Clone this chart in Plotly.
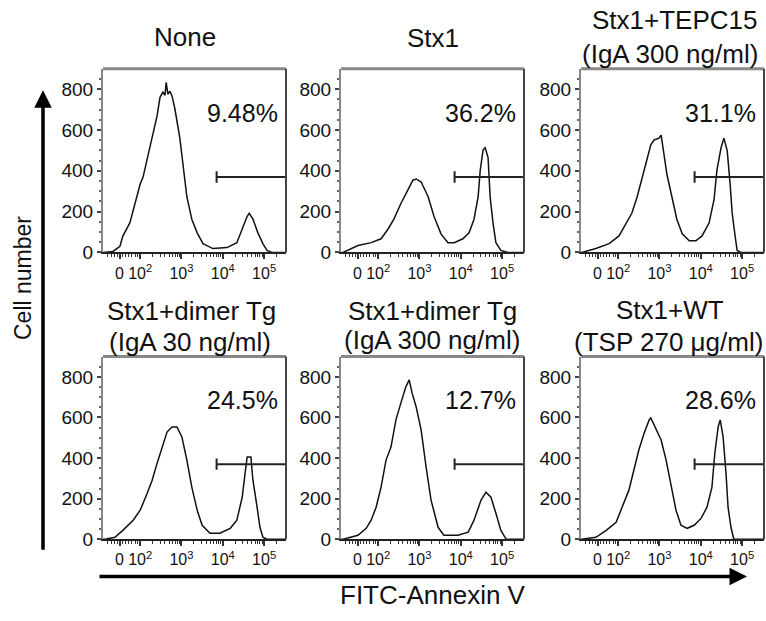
import plotly.graph_objects as go

# ---------------- data ----------------
panel_titles = [
    ["None"],
    ["Stx1"],
    ["Stx1+TEPC15", "(IgA 300 ng/ml)"],
    ["Stx1+dimer Tg", "(IgA 30 ng/ml)"],
    ["Stx1+dimer Tg", "(IgA 300 ng/ml)"],
    ["Stx1+WT", "(TSP 270 μg/ml)"],
]
percent_labels = ["9.48%", "36.2%", "31.1%", "24.5%", "12.7%", "28.6%"]

# x in decades of FITC-Annexin V (logicle-like display units), y = cell number
none_x = [1.10, 1.34, 1.51, 1.58, 1.75, 1.92, 2.00, 2.07, 2.19, 2.29, 2.41, 2.48, 2.55, 2.60, 2.63, 2.67,
          2.72, 2.77, 2.84, 2.96, 3.04, 3.13, 3.25, 3.38, 3.52, 3.76, 4.10, 4.34, 4.47, 4.59, 4.64,
          4.73, 4.85, 4.97, 5.07, 5.19, 5.53]
none_y = [0, 5, 30, 80, 145, 273, 335, 369, 480, 560, 670, 760, 785, 770, 833, 776,
          790, 767, 704, 560, 431, 273, 163, 96, 43, 19, 24, 48, 115, 177, 192,
          163, 96, 43, 10, 0, 0]

stx1_x = [1.10, 1.15, 1.51, 1.83, 2.07, 2.24, 2.38, 2.55, 2.72, 2.84, 2.92, 3.04, 3.21, 3.35, 3.52,
          3.69, 3.84, 4.05, 4.20, 4.32, 4.42, 4.47, 4.54, 4.59, 4.66, 4.71, 4.78, 4.85, 4.97, 5.14, 5.53]
stx1_y = [0, 0, 34, 48, 67, 115, 163, 240, 307, 354, 360, 345, 273, 177, 91,
          48, 48, 67, 96, 163, 273, 402, 503, 513, 465, 273, 144, 48, 10, 0, 0]

tepc_x = [1.10, 1.12, 1.46, 1.78, 2.02, 2.19, 2.33, 2.46, 2.58, 2.70, 2.79, 2.87, 2.99, 3.04, 3.09,
          3.18, 3.30, 3.42, 3.55, 3.72, 3.88, 4.03, 4.20, 4.32, 4.39, 4.49, 4.56, 4.64, 4.71, 4.76,
          4.83, 4.88, 4.97, 5.53]
tepc_y = [0, 0, 19, 43, 81, 144, 192, 273, 369, 465, 527, 551, 560, 575, 513,
          383, 273, 163, 91, 57, 57, 81, 144, 259, 402, 513, 560, 498, 335, 192,
          81, 10, 0, 0]

dimer30_x = [1.10, 1.15, 1.39, 1.58, 1.83, 2.00, 2.17, 2.29, 2.41, 2.53, 2.65, 2.77, 2.89, 3.01, 3.13,
             3.25, 3.38, 3.50, 3.69, 3.93, 4.18, 4.34, 4.47, 4.54, 4.59, 4.68, 4.73, 4.83, 4.90, 4.97,
             5.07, 5.53]
dimer30_y = [0, 0, 10, 44, 94, 143, 227, 291, 375, 454, 528, 553, 553, 504, 390,
             257, 143, 69, 30, 30, 54, 94, 207, 326, 405, 405, 291, 158, 59, 10,
             0, 0]

dimer300_x = [1.10, 1.15, 1.51, 1.71, 1.83, 1.95, 2.07, 2.19, 2.31, 2.43, 2.55, 2.67, 2.75, 2.82, 2.92,
              3.04, 3.16, 3.28, 3.45, 3.59, 3.93, 4.18, 4.32, 4.49, 4.61, 4.73, 4.85, 4.97, 5.10, 5.53]
dimer300_y = [0, 0, 20, 54, 94, 158, 257, 390, 454, 588, 672, 751, 785, 721, 652,
              538, 356, 193, 59, 20, 20, 35, 94, 193, 232, 207, 128, 44, 0, 0]

wt_x = [1.10, 1.12, 1.46, 1.71, 1.95, 2.09, 2.26, 2.38, 2.50, 2.63, 2.75, 2.79, 2.92, 3.04, 3.16,
        3.28, 3.40, 3.52, 3.67, 3.84, 4.01, 4.15, 4.27, 4.34, 4.42, 4.47, 4.54, 4.61, 4.66, 4.73,
        4.80, 5.53]
wt_y = [0, 0, 10, 44, 84, 158, 242, 341, 440, 523, 588, 598, 538, 489, 390,
        257, 143, 69, 54, 69, 104, 158, 257, 425, 553, 588, 504, 326, 158, 59,
        0, 0]

series_x = [none_x, stx1_x, tepc_x, dimer30_x, dimer300_x, wt_x]
series_y = [none_y, stx1_y, tepc_y, dimer30_y, dimer300_y, wt_y]

gate_start = 3.85
gate_level = 370
label_x = 5.38
label_y = 685

x_range = [1.10, 5.53]
y_range = [0, 900]
x_tick_vals = [1.50, 2, 3, 4, 5]
x_tick_text = ["0", "10<sup>2</sup>", "10<sup>3</sup>", "10<sup>4</sup>", "10<sup>5</sup>"]
x_minor_vals = [1.2, 1.3, 1.38, 1.45, 1.56, 1.65, 1.72, 1.8, 1.88, 1.94,
                2.30, 2.48, 2.60, 2.70, 2.78, 2.85, 2.90, 2.95,
                3.30, 3.48, 3.60, 3.70, 3.78, 3.85, 3.90, 3.95,
                4.30, 4.48, 4.60, 4.70, 4.78, 4.85, 4.90, 4.95, 5.30]
y_tick_vals = [0, 200, 400, 600, 800]
y_minor_vals = [50, 100, 150, 250, 300, 350, 450, 500, 550, 650, 700, 750, 850]

# ---------------- layout geometry ----------------
W, H = 766, 621
col_px = [(103, 286), (341, 524), (581, 764)]
row_px = [(70, 257), (363, 549)]
FONT = "Liberation Sans, Arial, sans-serif"

fig = go.Figure()
layout = dict(
    width=W, height=H, margin=dict(l=0, r=0, t=0, b=0),
    paper_bgcolor="white", plot_bgcolor="white", showlegend=False,
    font=dict(family=FONT, color="#111"),
)
annotations = []
shapes = []

for i in range(6):
    r, c = divmod(i, 3)
    ax_id = "" if i == 0 else str(i + 1)
    xa, ya = "x" + ax_id, "y" + ax_id
    x0, x1 = col_px[c]
    y0, y1 = row_px[r]
    layout["xaxis" + ax_id] = dict(
        domain=[x0 / W, x1 / W], range=x_range, anchor=ya,
        showgrid=False, zeroline=False, showline=True, linecolor="#222", linewidth=2,
        tickmode="array", tickvals=x_tick_vals, ticktext=x_tick_text, tickangle=0,
        ticks="outside", ticklen=5, tickwidth=1.5, tickcolor="#333",
        tickfont=dict(size=16, family=FONT, color="#111"),
        minor=dict(tickmode="array", tickvals=x_minor_vals, ticks="outside",
                   ticklen=3, tickwidth=1.2, tickcolor="#333", showgrid=False),
    )
    layout["yaxis" + ax_id] = dict(
        domain=[1 - y1 / H, 1 - y0 / H], range=y_range, anchor=xa,
        showgrid=False, zeroline=False, showline=True, linecolor="#888", linewidth=2,
        tickmode="array", tickvals=y_tick_vals, tickangle=0,
        ticks="outside", ticklen=4, tickwidth=1.5, tickcolor="#444",
        tickfont=dict(size=19, family=FONT, color="#111"),
        minor=dict(tickmode="array", tickvals=y_minor_vals, ticks="outside",
                   ticklen=2, tickwidth=1.5, tickcolor="#666", showgrid=False),
    )
    # histogram
    fig.add_trace(go.Scatter(x=series_x[i], y=series_y[i], mode="lines",
                             line=dict(color="#111", width=1.5),
                             xaxis=xa, yaxis=ya, hoverinfo="skip"))
    # gate
    fig.add_trace(go.Scatter(x=[gate_start, x_range[1]], y=[gate_level, gate_level], mode="lines",
                             line=dict(color="#222", width=2), xaxis=xa, yaxis=ya, hoverinfo="skip"))
    fig.add_trace(go.Scatter(x=[gate_start, gate_start], y=[gate_level - 28, gate_level + 28], mode="lines",
                             line=dict(color="#222", width=2), xaxis=xa, yaxis=ya, hoverinfo="skip"))
    # percentage
    annotations.append(dict(x=label_x, y=label_y, xref=xa, yref=ya, text=percent_labels[i],
                            showarrow=False, xanchor="right", yanchor="middle",
                            font=dict(size=25, family=FONT, color="#111")))
    # top & right frame
    shapes.append(dict(type="line", xref=xa + " domain", yref=ya + " domain",
                       x0=0, x1=1, y0=1, y1=1, line=dict(color="#888", width=3)))
    shapes.append(dict(type="line", xref=xa + " domain", yref=ya + " domain",
                       x0=1, x1=1, y0=0, y1=1, line=dict(color="#444", width=2)))

# titles (pixel centres -> paper)
title_pos = [
    [(185, 38)], [(433, 39)], [(674, 20), (670, 55)],
    [(192, 317), (190, 348)], [(432, 317), (432, 346)], [(670, 316), (668, 348)],
]
for i in range(6):
    for line, (px, py) in zip(panel_titles[i], title_pos[i]):
        annotations.append(dict(x=px / W, y=1 - py / H, xref="paper", yref="paper", text=line,
                                showarrow=False, xanchor="center", yanchor="middle",
                                font=dict(size=26, family=FONT, color="#111")))

# axis titles
annotations.append(dict(x=23 / W, y=1 - 283 / H, xref="paper", yref="paper", text="Cell number",
                        textangle=-90, showarrow=False, xanchor="center", yanchor="middle",
                        font=dict(size=23, family=FONT, color="#111")))
annotations.append(dict(x=433 / W, y=1 - 606 / H, xref="paper", yref="paper", text="FITC-Annexin V",
                        showarrow=False, xanchor="center", yanchor="middle",
                        font=dict(size=26, family=FONT, color="#111")))
# arrows
annotations.append(dict(x=43 / W, y=1 - 92 / H, xref="paper", yref="paper", text="",
                        showarrow=True, ax=0, ay=461, arrowhead=2, arrowsize=1, arrowwidth=3.5,
                        arrowcolor="#000", standoff=0))
annotations.append(dict(x=747 / W, y=1 - 587 / H, xref="paper", yref="paper", text="",
                        showarrow=True, ax=-649, ay=0, arrowhead=2, arrowsize=1, arrowwidth=3.5,
                        arrowcolor="#000", standoff=0))

layout["annotations"] = annotations
layout["shapes"] = shapes
fig.update_layout(**layout)
fig.write_html("out.html")
